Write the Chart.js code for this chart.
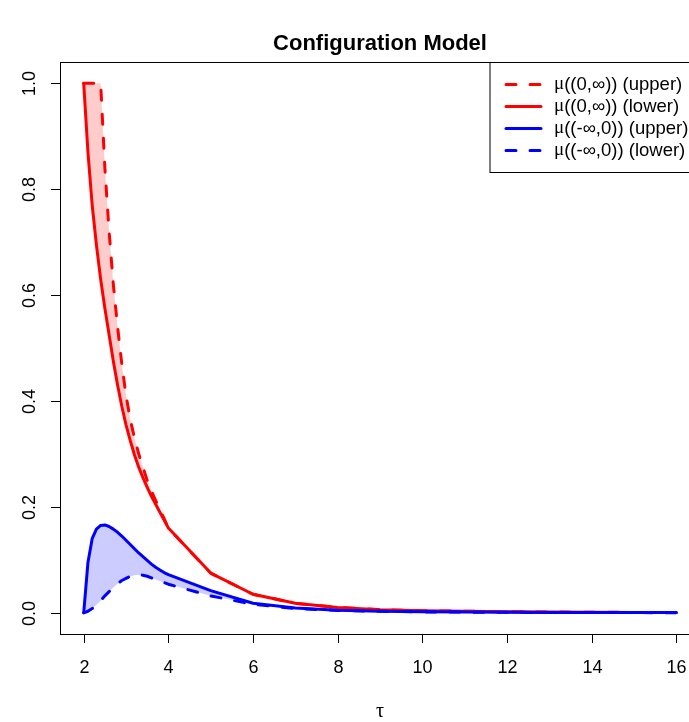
<!DOCTYPE html>
<html>
<head>
<meta charset="utf-8">
<title>Configuration Model</title>
<script src="https://cdn.jsdelivr.net/npm/chart.js@4/dist/chart.umd.min.js"></script>
<style>
  html, body { margin: 0; padding: 0; background: #fff; overflow: hidden; }
  #wrap { width: 689px; height: 722px; overflow: hidden; }
  canvas { display: block; }
</style>
</head>
<body>
<div id="wrap"><canvas id="myCanvas" width="712" height="722" style="width:712px;height:722px"></canvas></div>
<script>
// tau grid used for the curves (fine up to 4, then integer steps)
var tau = [2.0, 2.1, 2.2, 2.3, 2.4, 2.5, 2.6, 2.7, 2.8, 2.9, 3.0, 3.1, 3.2, 3.3, 3.4, 3.5, 3.6, 3.7, 3.8, 3.9, 4.0,
           5, 6, 7, 8, 9, 10, 11, 12, 13, 14, 15, 16];

var posUpper = [1.0, 1.0, 1.0, 1.0, 1.0, 0.84, 0.72, 0.62, 0.54, 0.47, 0.41, 0.365, 0.33, 0.30, 0.275, 0.25, 0.23, 0.212, 0.195, 0.178, 0.16,
                0.075, 0.035, 0.018, 0.010, 0.006, 0.004, 0.003, 0.002, 0.0015, 0.001, 0.0008, 0.0006];
var posLower = [1.0, 0.87, 0.77, 0.695, 0.63, 0.575, 0.525, 0.475, 0.43, 0.39, 0.355, 0.325, 0.298, 0.275, 0.255, 0.237, 0.22, 0.205, 0.19, 0.175, 0.16,
                0.075, 0.035, 0.018, 0.010, 0.006, 0.004, 0.003, 0.002, 0.0015, 0.001, 0.0008, 0.0006];
var negUpper = [0.0, 0.095, 0.14, 0.158, 0.165, 0.166, 0.163, 0.158, 0.152, 0.145, 0.137, 0.129, 0.121, 0.113, 0.106, 0.099, 0.092, 0.086, 0.081, 0.076, 0.072,
                0.042, 0.018, 0.009, 0.005, 0.003, 0.002, 0.0015, 0.001, 0.0008, 0.0006, 0.0005, 0.0004];
var negLower = [0.0, 0.003, 0.008, 0.015, 0.023, 0.032, 0.040, 0.048, 0.055, 0.061, 0.065, 0.069, 0.071, 0.072, 0.071, 0.069, 0.066, 0.063, 0.060, 0.057, 0.054,
                0.032, 0.016, 0.008, 0.0045, 0.0028, 0.0018, 0.0013, 0.001, 0.0007, 0.0005, 0.0004, 0.0003];

var xTicks = [2, 4, 6, 8, 10, 12, 14, 16];
var yTicks = [0.0, 0.2, 0.4, 0.6, 0.8, 1.0];
var seriesNames = ['\u03bc((0,\u221e)) (upper)', '\u03bc((0,\u221e)) (lower)', '\u03bc((-\u221e,0)) (upper)', '\u03bc((-\u221e,0)) (lower)'];

var FONT = '"Liberation Sans", Arial, Helvetica, sans-serif';

function pts(ys) {
    var out = [];
    for (var i = 0; i < tau.length; i++) {
        out.push({ x: tau[i], y: ys[i] });
    }
    return out;
}

function line(label, ys, color, dashed, fill, fillColor, order) {
    return {
        label: label,
        data: pts(ys),
        borderColor: color,
        borderWidth: 3,
        borderDash: dashed ? [10, 14] : [],
        borderCapStyle: 'round',
        borderJoinStyle: 'round',
        backgroundColor: fillColor || 'rgba(0,0,0,0)',
        fill: fill,
        pointRadius: 0,
        tension: 0,
        order: order
    };
}

// R style axes, box, title and legend
var rDecor = {
    id: 'rDecor',
    afterDraw: function (chart) {
        var ctx = chart.ctx, a = chart.chartArea;
        var xs = chart.scales.x, ys = chart.scales.y;
        ctx.save();
        ctx.strokeStyle = '#000';
        ctx.fillStyle = '#000';
        ctx.lineWidth = 1;
        ctx.strokeRect(Math.round(a.left) + 0.5, Math.round(a.top) + 0.5, a.right - a.left, a.bottom - a.top);

        ctx.font = '18px ' + FONT;
        ctx.textAlign = 'center';
        ctx.textBaseline = 'middle';
        xTicks.forEach(function (v) {
            var px = Math.round(xs.getPixelForValue(v)) + 0.5;
            ctx.beginPath();
            ctx.moveTo(px, a.bottom);
            ctx.lineTo(px, a.bottom + 9);
            ctx.stroke();
            ctx.fillText(String(v), px, a.bottom + 34);
        });
        yTicks.forEach(function (v) {
            var py = Math.round(ys.getPixelForValue(v)) + 0.5;
            ctx.beginPath();
            ctx.moveTo(a.left, py);
            ctx.lineTo(a.left - 9, py);
            ctx.stroke();
            ctx.save();
            ctx.translate(a.left - 30, py);
            ctx.rotate(-Math.PI / 2);
            ctx.fillText(v.toFixed(1), 0, 0);
            ctx.restore();
        });

        // title and x label
        var cx = (a.left + a.right) / 2;
        ctx.font = 'bold 22px ' + FONT;
        ctx.fillText('Configuration Model', cx, 44);
        ctx.font = '20px "Liberation Serif", "DejaVu Serif", serif';
        ctx.fillText('\u03c4', cx, 712);

        // legend box in the top right corner
        var lx = 490, ly = Math.round(a.top) + 0.5, lw = a.right - 490, lh = 110;
        ctx.fillStyle = '#fff';
        ctx.fillRect(lx, ly, lw, lh);
        ctx.strokeRect(lx, ly, lw, lh);
        var ds = chart.data.datasets;
        for (var i = 0; i < ds.length; i++) {
            var ry = ly + 22 + i * 22;
            ctx.strokeStyle = ds[i].borderColor;
            ctx.lineWidth = 3;
            ctx.lineCap = 'round';
            ctx.setLineDash(ds[i].borderDash);
            ctx.beginPath();
            ctx.moveTo(506, ry);
            ctx.lineTo(541, ry);
            ctx.stroke();
            ctx.setLineDash([]);
            ctx.fillStyle = '#000';
            ctx.textAlign = 'left';
            ctx.font = '19px "Liberation Serif", "DejaVu Serif", serif';
            ctx.fillText('\u03bc', 554, ry);
            var mw = ctx.measureText('\u03bc').width;
            ctx.font = '18.5px ' + FONT;
            ctx.fillText(ds[i].label.substring(1), 554 + mw, ry);
        }
        ctx.restore();
    }
};

var ctx = document.getElementById('myCanvas').getContext('2d');
var myChart = new Chart(ctx, {
    type: 'line',
    data: {
        datasets: [
            line(seriesNames[0], posUpper, '#ff0000', true, '+1', 'rgba(255,0,0,0.2)', 3),
            line(seriesNames[1], posLower, '#ff0000', false, false, null, 2),
            line(seriesNames[2], negUpper, '#0000ff', false, '+1', 'rgba(0,0,255,0.2)', 1),
            line(seriesNames[3], negLower, '#0000ff', true, false, null, 0)
        ]
    },
    options: {
        responsive: false,
        animation: false,
        devicePixelRatio: 1,
        layout: { padding: { left: 60, top: 62, right: 12, bottom: 88 } },
        scales: {
            x: { type: 'linear', min: 1.44, max: 16.56, display: false },
            y: { type: 'linear', min: -0.04, max: 1.04, display: false }
        },
        plugins: {
            legend: { display: false },
            title: { display: false },
            tooltip: { enabled: false },
            filler: { propagate: false }
        }
    },
    plugins: [rDecor]
});
</script>
</body>
</html>
